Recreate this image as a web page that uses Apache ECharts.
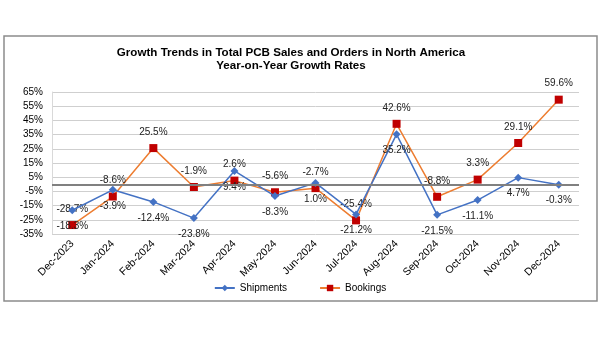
<!DOCTYPE html>
<html><head><meta charset="utf-8">
<script src="https://cdn.jsdelivr.net/npm/echarts@6/dist/echarts.min.js"></script>
<style>html,body{margin:0;padding:0;background:#fff}#c{width:600px;height:338px}</style>
</head><body><div id="c"></div>
<script>
const categories = ["Dec-2023","Jan-2024","Feb-2024","Mar-2024","Apr-2024","May-2024","Jun-2024","Jul-2024","Aug-2024","Sep-2024","Oct-2024","Nov-2024","Dec-2024"];
const shipments = [-18.3,-3.9,-12.4,-23.8,9.4,-8.3,1.0,-21.2,35.2,-21.5,-11.1,4.7,-0.3];
const bookings = [-28.7,-8.6,25.5,-1.9,2.6,-5.6,-2.7,-25.4,42.6,-8.8,3.3,29.1,59.6];
const titleText = "Growth Trends in Total PCB Sales and Orders in North America\nYear-on-Year Growth Rates";

const chart = echarts.init(document.getElementById('c'));
const font = 'Arial, "Liberation Sans", sans-serif';
chart.setOption({
  backgroundColor: '#fff',
  animation: false,
  title: {
    text: titleText, left: 286, top: 41, textAlign: 'center',
    textStyle: {fontFamily: font, fontSize: 11.6, fontWeight: 'bold', color: '#000', lineHeight: 13.5}
  },
  graphic: [{type: 'rect', shape: {x: 4, y: 36, width: 593, height: 265}, style: {fill: 'none', stroke: '#8c8c8c', lineWidth: 1.5}, silent: true}],
  legend: {
    data: ['Shipments','Bookings'], top: 278, left: 'center', itemGap: 32, itemWidth: 20, itemHeight: 8,
    textStyle: {fontFamily: font, fontSize: 10, color: '#000'}
  },
  grid: {left: 52, right: 21, top: 92, bottom: 104},
  xAxis: {
    type: 'category', data: categories, boundaryGap: true,
    axisLine: {show: false}, axisTick: {show: false},
    axisLabel: {rotate: 45, fontFamily: font, fontSize: 10.5, color: '#000', margin: 8, interval: 0}
  },
  yAxis: {
    type: 'value', min: -35, max: 65, interval: 10,
    axisLine: {show: true, lineStyle: {color: '#d9d9d9'}}, axisTick: {show: false},
    axisLabel: {formatter: '{value}%', fontFamily: font, fontSize: 10, color: '#000', margin: 9},
    splitLine: {lineStyle: {color: '#cfcfcf', width: 1}}
  },
  series: [
    {
      name: 'Shipments', type: 'line', data: shipments, symbol: 'diamond', symbolSize: 8,
      lineStyle: {color: '#4472C4', width: 1.5}, itemStyle: {color: '#4472C4'},
      label: {show: true, position: 'bottom', distance: 7, formatter: p => p.value.toFixed(1) + '%', fontFamily: font, fontSize: 10, color: '#222'},
      markLine: {silent: true, symbol: 'none', label: {show: false}, lineStyle: {color: '#808080', width: 2, type: 'solid'}, data: [{yAxis: 0}]},
      z: 3
    },
    {
      name: 'Bookings', type: 'line', data: bookings, symbol: 'rect', symbolSize: 8,
      lineStyle: {color: '#ED7D31', width: 1.5}, itemStyle: {color: '#C00000'},
      label: {show: true, position: 'top', distance: 7, formatter: p => p.value.toFixed(1) + '%', fontFamily: font, fontSize: 10, color: '#222'},
      z: 2
    }
  ]
});
</script></body></html>
